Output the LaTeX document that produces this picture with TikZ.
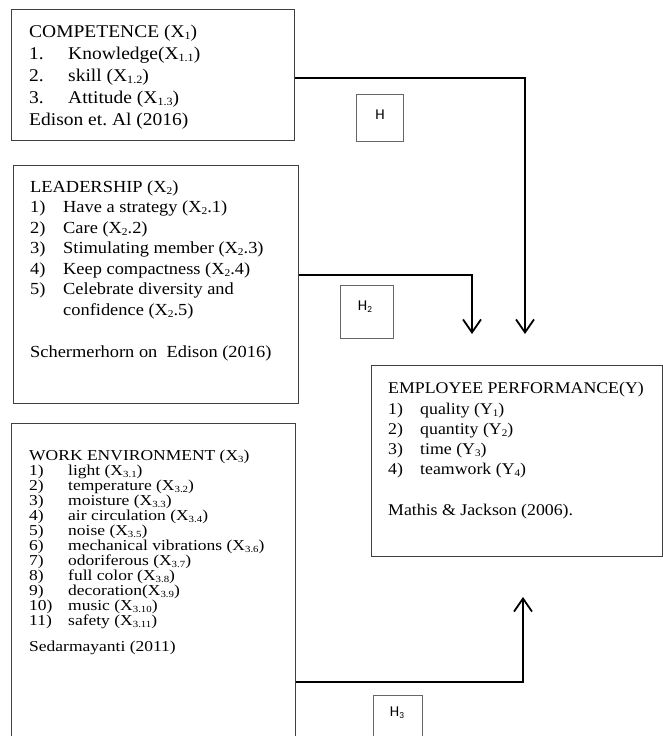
\documentclass[tikz,border=0pt]{standalone}
\usepackage{fontspec}
\setmainfont{Liberation Serif}
\newfontfamily\hfont{Carlito}
\usetikzlibrary{arrows.meta}
\newcommand\sbx[1]{\raisebox{-0.3ex}{\scalebox{0.62}{#1}}}
\begin{document}
\frenchspacing
\begin{tikzpicture}[x=1pt,y=-1pt,
 box/.style={draw=black!75, line width=1.3pt, inner sep=0pt, anchor=north west},
 hbox/.style={draw=black!60, line width=1.1pt, inner sep=0pt, anchor=north west},
 conn/.style={line width=1.8pt, draw=black},
 arr/.style={conn, -{Straight Barb[length=13pt,width=18pt,line width=1.8pt]}},
 txt/.style={anchor=base west, inner sep=0pt, yscale=0.92, transform shape},
 ta/.style={txt, font=\fontsize{19.5}{22}\selectfont},
 tb/.style={txt, font=\fontsize{18.4}{20}\selectfont},
 tc/.style={txt, yscale=0.94, font=\fontsize{17.5}{15}\selectfont},
 td/.style={txt, font=\fontsize{17.8}{20}\selectfont},
 htxt/.style={inner sep=0pt, font=\hfont\fontsize{15}{16}\selectfont}]
\useasboundingbox (0,0) rectangle (663,736);
\clip (0,0) rectangle (663,736);
\fill[white] (0,0) rectangle (663,736);

% boxes
\node[box, minimum width=283pt, minimum height=131pt] (b1) at (11,9) {};
\node[box, minimum width=285pt, minimum height=238pt] (b2) at (13,165) {};
\node[box, minimum width=284pt, minimum height=330pt] (b3) at (11,423) {};
\node[box, minimum width=291pt, minimum height=191pt] (b4) at (371,365) {};

% box 1 text
\node[ta] (b1l0) at (29,37) {COMPETENCE (X\sbx{1})};
\node[ta] (b1n1) at (29,59) {1.};
\node[ta] (b1l1) at (68,59) {Knowledge(X\sbx{1.1})};
\node[ta] (b1n2) at (29,81) {2.};
\node[ta] (b1l2) at (68,81) {skill (X\sbx{1.2})};
\node[ta] (b1n3) at (29,103) {3.};
\node[ta] (b1l3) at (68,103) {Attitude (X\sbx{1.3})};
\node[ta] (b1l4) at (29,125) {Edison et. Al (2016)};

% box 2 text
\node[tb] (b2l0) at (30,192) {LEADERSHIP (X\sbx{2})};
\node[tb] (b2n1) at (30,212.5) {1)};
\node[tb] (b2l1) at (63,212.5) {Have a strategy (X\sbx{2}.1)};
\node[tb] (b2n2) at (30,233) {2)};
\node[tb] (b2l2) at (63,233) {Care (X\sbx{2}.2)};
\node[tb] (b2n3) at (30,253.5) {3)};
\node[tb] (b2l3) at (63,253.5) {Stimulating member (X\sbx{2}.3)};
\node[tb] (b2n4) at (30,274) {4)};
\node[tb] (b2l4) at (63,274) {Keep compactness (X\sbx{2}.4)};
\node[tb] (b2n5) at (30,294.5) {5)};
\node[tb] (b2l5) at (63,294.5) {Celebrate diversity and};
\node[tb] (b2l6) at (63,315) {confidence (X\sbx{2}.5)};
\node[tb] (b2l7) at (30,357) {Schermerhorn on\ \ Edison (2016)};

% box 3 text
\node[tc] (b3l0) at (29,460) {WORK ENVIRONMENT (X\sbx{3})};
\node[tc] (b3n1) at (29,475) {1)};
\node[tc] (b3l1) at (68,475) {light (X\sbx{3.1})};
\node[tc] (b3n2) at (29,490) {2)};
\node[tc] (b3l2) at (68,490) {temperature (X\sbx{3.2})};
\node[tc] (b3n3) at (29,505) {3)};
\node[tc] (b3l3) at (68,505) {moisture (X\sbx{3.3})};
\node[tc] (b3n4) at (29,520) {4)};
\node[tc] (b3l4) at (68,520) {air circulation (X\sbx{3.4})};
\node[tc] (b3n5) at (29,535) {5)};
\node[tc] (b3l5) at (68,535) {noise (X\sbx{3.5})};
\node[tc] (b3n6) at (29,550) {6)};
\node[tc] (b3l6) at (68,550) {mechanical vibrations (X\sbx{3.6})};
\node[tc] (b3n7) at (29,565) {7)};
\node[tc] (b3l7) at (68,565) {odoriferous (X\sbx{3.7})};
\node[tc] (b3n8) at (29,580) {8)};
\node[tc] (b3l8) at (68,580) {full color (X\sbx{3.8})};
\node[tc] (b3n9) at (29,595) {9)};
\node[tc] (b3l9) at (68,595) {decoration(X\sbx{3.9})};
\node[tc] (b3n10) at (29,610) {10)};
\node[tc] (b3l10) at (68,610) {music (X\sbx{3.10})};
\node[tc] (b3n11) at (29,625) {11)};
\node[tc] (b3l11) at (68,625) {safety (X\sbx{3.11})};
\node[tc] (b3l12) at (29,651) {Sedarmayanti (2011)};

% box 4 text
\node[td] (b4l0) at (388,393) {EMPLOYEE PERFORMANCE(Y)};
\node[td] (b4n1) at (388,414) {1)};
\node[td] (b4l1) at (420,414) {quality (Y\sbx{1})};
\node[td] (b4n2) at (388,434) {2)};
\node[td] (b4l2) at (420,434) {quantity (Y\sbx{2})};
\node[td] (b4n3) at (388,454) {3)};
\node[td] (b4l3) at (420,454) {time (Y\sbx{3})};
\node[td] (b4n4) at (388,474) {4)};
\node[td] (b4l4) at (420,474) {teamwork (Y\sbx{4})};
\node[td] (b4l5) at (388,515) {Mathis \& Jackson (2006).};

% H boxes
\node[hbox, minimum width=47pt, minimum height=47pt] (h1) at (356,94) {};
\node[htxt] (h1t) at (380,115) {H};
\node[hbox, minimum width=53pt, minimum height=53pt] (h2) at (340,285) {};
\node[htxt] (h2t) at (365,307) {H\sbx{2}};
\node[hbox, minimum width=49pt, minimum height=60pt] (h3) at (373,695) {};
\node[htxt] (h3t) at (397,713) {H\sbx{3}};

% connectors
\coordinate (t1) at (525,334);
\coordinate (t2) at (472,334);
\coordinate (t3) at (523,597);
\draw[arr] (b1.east |- 0,78) -| (t1);
\draw[arr] (b2.east |- 0,275) -| (t2);
\draw[arr] (b3.east |- 0,682) -| (t3);
\end{tikzpicture}
\end{document}
